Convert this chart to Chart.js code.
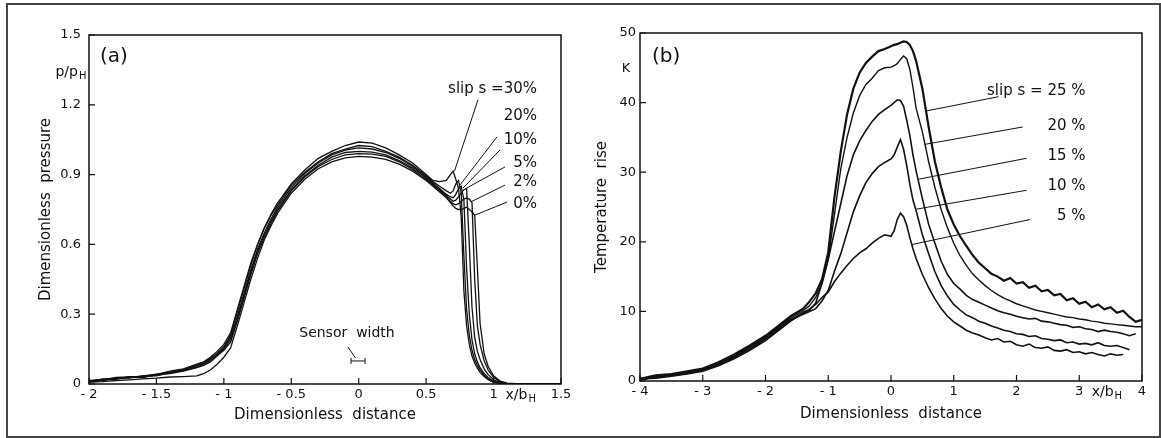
<!DOCTYPE html>
<html>
<head>
<meta charset="utf-8">
<script src="https://cdn.jsdelivr.net/npm/chart.js@4.4.1/dist/chart.umd.min.js"></script>
<style>
  body { margin: 0; background: #fff; }
  #wrap { position: relative; width: 1161px; height: 438px; overflow: hidden; background: #fff; }
  #frame { position: absolute; left: 6px; top: 3px; width: 1155px; height: 435px; box-sizing: border-box; border: 2px solid #444; }
  canvas { position: absolute; top: 0; }
  #chartA { left: 0; }
  #chartB { left: 580px; }
</style>
</head>
<body>
<div id="wrap">
  <div id="frame"></div>
  <canvas id="chartA" width="620" height="438"></canvas>
  <canvas id="chartB" width="581" height="438"></canvas>
</div>
<script>
// ---- panel (a): dimensionless pressure p/pH vs x/bH ----
const xA = [-2.0, -1.9, -1.8, -1.7, -1.6, -1.5, -1.4, -1.3, -1.2, -1.15, -1.1, -1.05, -1.0, -0.95,
  -0.9, -0.85, -0.8, -0.75, -0.7, -0.65, -0.6, -0.5, -0.4, -0.3, -0.2, -0.1, 0, 0.1, 0.2, 0.3, 0.4, 0.5,
  0.55, 0.6, 0.65, 0.68, 0.7, 0.72, 0.74, 0.76, 0.78, 0.8, 0.82, 0.84, 0.86, 0.88, 0.9, 0.93, 0.96,
  1.0, 1.05, 1.1, 1.2, 1.3, 1.4, 1.5];

const pSlip30 = [0.012, 0.02, 0.025, 0.028, 0.035, 0.042, 0.05, 0.062, 0.08, 0.09, 0.11, 0.13, 0.16, 0.21,
  0.31, 0.41, 0.51, 0.6, 0.67, 0.73, 0.78, 0.86, 0.92, 0.97, 1.0, 1.025, 1.04, 1.035, 1.015, 0.985, 0.95, 0.9,
  0.875, 0.87, 0.875, 0.9, 0.915, 0.88, 0.84, 0.72, 0.4, 0.25, 0.17, 0.12, 0.09, 0.068, 0.05, 0.032, 0.018,
  0.007, 0.002, 0, 0, 0, 0, 0];
const pSlip20 = [0.015, 0.018, 0.028, 0.03, 0.032, 0.04, 0.055, 0.065, 0.085, 0.095, 0.115, 0.14, 0.17, 0.22,
  0.32, 0.42, 0.52, 0.6, 0.67, 0.725, 0.77, 0.855, 0.91, 0.955, 0.99, 1.01, 1.025, 1.02, 1.0, 0.975, 0.94, 0.895,
  0.87, 0.85, 0.83, 0.82, 0.83, 0.86, 0.875, 0.82, 0.55, 0.32, 0.21, 0.145, 0.105, 0.08, 0.06, 0.038, 0.022,
  0.009, 0.003, 0, 0, 0, 0, 0];
const pSlip10 = [0.01, 0.022, 0.02, 0.032, 0.03, 0.038, 0.05, 0.06, 0.078, 0.09, 0.105, 0.13, 0.155, 0.2,
  0.29, 0.39, 0.49, 0.58, 0.65, 0.71, 0.76, 0.845, 0.905, 0.95, 0.985, 1.005, 1.015, 1.01, 0.995, 0.97, 0.935, 0.89,
  0.865, 0.84, 0.815, 0.805, 0.8, 0.815, 0.84, 0.85, 0.79, 0.5, 0.3, 0.19, 0.13, 0.095, 0.07, 0.045, 0.028,
  0.012, 0.005, 0.001, 0, 0, 0, 0];
const pSlip5 = [0.008, 0.015, 0.025, 0.025, 0.035, 0.035, 0.048, 0.058, 0.072, 0.085, 0.1, 0.125, 0.15, 0.19,
  0.28, 0.38, 0.48, 0.57, 0.64, 0.7, 0.75, 0.835, 0.895, 0.94, 0.975, 0.995, 1.0, 0.997, 0.985, 0.96, 0.928, 0.885,
  0.86, 0.835, 0.81, 0.795, 0.785, 0.79, 0.805, 0.82, 0.835, 0.84, 0.6, 0.33, 0.2, 0.14, 0.105, 0.065, 0.04,
  0.018, 0.007, 0.002, 0, 0, 0, 0];
const pSlip2 = [0.012, 0.018, 0.022, 0.03, 0.028, 0.04, 0.045, 0.055, 0.07, 0.08, 0.095, 0.12, 0.145, 0.18,
  0.27, 0.37, 0.47, 0.56, 0.63, 0.69, 0.745, 0.83, 0.89, 0.935, 0.965, 0.985, 0.99, 0.988, 0.978, 0.955, 0.922, 0.88,
  0.855, 0.83, 0.805, 0.785, 0.775, 0.77, 0.775, 0.785, 0.795, 0.8, 0.795, 0.78, 0.45, 0.25, 0.17, 0.1, 0.06,
  0.028, 0.01, 0.003, 0, 0, 0, 0];
const pSlip0 = [0.008, 0.01, 0.015, 0.018, 0.022, 0.025, 0.03, 0.032, 0.035, 0.045, 0.06, 0.085, 0.115, 0.155,
  0.25, 0.35, 0.45, 0.54, 0.62, 0.68, 0.735, 0.82, 0.88, 0.925, 0.955, 0.972, 0.978, 0.975, 0.965, 0.945, 0.915, 0.875,
  0.85, 0.825, 0.8, 0.78, 0.765, 0.755, 0.75, 0.75, 0.755, 0.76, 0.75, 0.74, 0.725, 0.5, 0.26, 0.13, 0.075,
  0.035, 0.012, 0.004, 0, 0, 0, 0];

const xTicksA = ['- 2', '- 1.5', '- 1', '- 0.5', '0', '0.5', '1', '1.5'];
const yTicksA = ['0', '0.3', '0.6', '0.9', '1.2', '1.5'];
const slipLabelsA = ['slip s =30%', '20%', '10%', '5%', '2%', '0%'];

// ---- panel (b): temperature rise in K vs x/bH ----
const xB = [-4, -3.75, -3.5, -3.25, -3, -2.75, -2.5, -2.25, -2, -1.8, -1.6, -1.4, -1.3, -1.2, -1.1, -1.0,
  -0.9, -0.8, -0.7, -0.6, -0.5, -0.4, -0.3, -0.2, -0.1, 0, 0.05, 0.1, 0.15, 0.2, 0.25, 0.3, 0.35, 0.4,
  0.5, 0.6, 0.7, 0.8, 0.9, 1.0, 1.1, 1.2, 1.3, 1.4, 1.5, 1.6, 1.7, 1.8, 1.9, 2.0, 2.1, 2.2, 2.3, 2.4,
  2.5, 2.6, 2.7, 2.8, 2.9, 3.0, 3.1, 3.2, 3.3, 3.4, 3.5, 3.6, 3.7, 3.8, 3.9, 4.0];

const tSlip25 = [0.3, 0.8, 1.0, 1.4, 1.8, 2.7, 3.8, 5.1, 6.5, 7.9, 9.3, 10.4, 11.4, 12.6, 14.6, 18.5,
  26.5, 33.0, 38.3, 42.0, 44.3, 45.7, 46.6, 47.4, 47.7, 48.1, 48.3, 48.4, 48.6, 48.8, 48.7, 48.3, 47.4, 46.0,
  42.0, 36.5, 31.5, 27.8, 24.6, 22.5, 20.8, 19.4, 18.1, 17.0, 16.2, 15.4, 15.0, 14.4, 14.8, 14.0, 14.2, 13.4, 13.7, 12.9,
  13.1, 12.3, 12.5, 11.6, 11.9, 11.1, 11.4, 10.6, 11.0, 10.3, 10.6, 9.8, 10.1, 9.2, 8.5, 8.8];
const tSlip20 = [0.2, 0.6, 0.9, 1.2, 1.6, 2.5, 3.6, 4.9, 6.3, 7.7, 9.0, 10.1, 10.8, 12.0, 14.0, 17.5,
  24.0, 30.5, 35.0, 38.5, 41.0, 42.6, 43.5, 44.6, 45.0, 45.1, 45.3, 45.6, 46.2, 46.7, 46.3, 44.8, 42.2, 39.2,
  35.8, 31.5, 27.8, 24.6, 22.0, 19.8, 18.0, 16.6, 15.4, 14.5, 13.7, 13.0, 12.4, 11.9, 11.5, 11.1, 10.8, 10.5, 10.2, 10.0,
  9.8, 9.6, 9.4, 9.2, 9.1, 8.9, 8.8, 8.6, 8.5, 8.3, 8.2, 8.1, 8.0, 7.9, 7.8, 7.8];
const tSlip15 = [0.4, 0.5, 0.8, 1.1, 1.5, 2.3, 3.4, 4.6, 6.0, 7.4, 8.7, 9.8, 10.2, 11.2, 14.0, 17.5,
  21.5, 25.5, 29.5, 32.5, 34.5, 36.0, 37.3, 38.3, 39.0, 39.6, 40.0, 40.4, 40.3, 39.5, 37.5, 35.3, 32.5, 30.2,
  26.2, 22.5, 19.8, 17.2, 15.3, 14.0, 13.2, 12.3, 11.7, 11.3, 10.9, 10.5, 10.1, 9.8, 9.6, 9.3, 9.1, 8.9, 9.0, 8.6,
  8.5, 8.3, 8.1, 8.0, 7.7, 7.8, 7.5, 7.4, 7.1, 7.3, 7.1, 7.0, 6.8, 6.5, 6.8, null];
const tSlip10 = [0.1, 0.6, 0.9, 1.3, 1.7, 2.4, 3.5, 4.7, 6.1, 7.5, 8.8, 9.6, 10.0, 10.4, 11.5, 13.0,
  15.8, 18.3, 21.3, 24.3, 26.6, 28.5, 29.8, 30.8, 31.4, 31.9, 32.5, 33.6, 34.7, 33.3, 31.0, 28.3, 26.0, 24.5,
  21.0, 18.3, 15.7, 13.7, 12.2, 11.0, 10.2, 9.5, 9.1, 8.6, 8.3, 7.9, 7.6, 7.3, 7.1, 6.8, 6.7, 6.4, 6.5, 6.1,
  6.0, 5.8, 5.9, 5.5, 5.6, 5.3, 5.4, 5.2, 5.5, 5.1, 5.0, 5.1, 4.8, 4.5, null, null];
const tSlip5 = [0.3, 0.4, 0.7, 1.0, 1.4, 2.2, 3.2, 4.4, 5.8, 7.2, 8.6, 9.8, 10.3, 11.0, 12.0, 12.8,
  14.3, 15.5, 16.6, 17.6, 18.4, 19.0, 19.8, 20.5, 21.0, 20.8, 21.6, 23.2, 24.1, 23.6, 22.4, 20.6, 19.0, 17.6,
  15.3, 13.4, 11.8, 10.4, 9.3, 8.5, 7.9, 7.3, 6.9, 6.6, 6.2, 5.9, 6.1, 5.6, 5.7, 5.2, 5.0, 5.3, 4.8, 4.7,
  4.9, 4.4, 4.3, 4.5, 4.1, 4.2, 3.9, 4.1, 3.8, 3.6, 3.9, 3.7, 3.8, null, null, null];

const xTicksB = ['- 4', '- 3', '- 2', '- 1', '0', '1', '2', '3', '4'];
const yTicksB = ['0', '10', '20', '30', '40', '50'];
const slipLabelsB = ['slip s = 25 %', '20 %', '15 %', '10 %', '5 %'];

const INK = '#111';
const FONT = "'DejaVu Sans', sans-serif";

function toPoints(xs, ys) {
  return xs.map((x, i) => ({ x: x, y: ys[i] }));
}

// box round the plot area and short ticks pointing inwards
const boxTicks = {
  id: 'boxTicks',
  afterDraw(chart) {
    const { ctx, chartArea: a, scales: { x, y } } = chart;
    ctx.save();
    ctx.strokeStyle = INK;
    ctx.lineWidth = 1.5;
    ctx.strokeRect(a.left, a.top, a.right - a.left, a.bottom - a.top);
    ctx.lineWidth = 1.2;
    ctx.beginPath();
    x.ticks.forEach(t => {
      const px = x.getPixelForValue(t.value);
      ctx.moveTo(px, a.bottom);
      ctx.lineTo(px, a.bottom - 6);
    });
    y.ticks.forEach(t => {
      const py = y.getPixelForValue(t.value);
      ctx.moveTo(a.left, py);
      ctx.lineTo(a.left + 6, py);
    });
    ctx.stroke();
    ctx.restore();
  }
};

function drawSub(ctx, text, sub, px, py, size) {
  ctx.textAlign = 'left';
  ctx.textBaseline = 'middle';
  ctx.font = size + 'px ' + FONT;
  ctx.fillText(text, px, py);
  const w = ctx.measureText(text).width;
  ctx.font = Math.round(size * 0.7) + 'px ' + FONT;
  ctx.fillText(sub, px + w + 1, py + size * 0.35);
}

// text labels, leader lines etc., all placed in data units
function notesPlugin(notes) {
  return {
    id: 'notes',
    afterDraw(chart) {
      const { ctx, chartArea: a, scales: { x, y } } = chart;
      ctx.save();
      ctx.fillStyle = INK;
      ctx.strokeStyle = INK;
      notes.texts.forEach(n => {
        ctx.font = n.size + 'px ' + FONT;
        ctx.textAlign = n.align;
        ctx.textBaseline = 'middle';
        ctx.fillText(n.text, x.getPixelForValue(n.x), y.getPixelForValue(n.y));
      });
      notes.subs.forEach(n => drawSub(ctx, n.text, n.sub, x.getPixelForValue(n.x), y.getPixelForValue(n.y), n.size));
      const ax = notes.axisSub;
      drawSub(ctx, ax.text, ax.sub, x.getPixelForValue(ax.x), a.bottom + 11, ax.size);
      ctx.lineWidth = 1;
      ctx.beginPath();
      notes.leaders.forEach(l => {
        ctx.moveTo(x.getPixelForValue(l[0]), y.getPixelForValue(l[1]));
        ctx.lineTo(x.getPixelForValue(l[2]), y.getPixelForValue(l[3]));
      });
      if (notes.bar) {
        const [x0, x1, yv] = notes.bar;
        const p0 = x.getPixelForValue(x0), p1 = x.getPixelForValue(x1), py = y.getPixelForValue(yv);
        ctx.moveTo(p0, py); ctx.lineTo(p1, py);
        ctx.moveTo(p0, py - 3); ctx.lineTo(p0, py + 3);
        ctx.moveTo(p1, py - 3); ctx.lineTo(p1, py + 3);
      }
      ctx.stroke();
      ctx.restore();
    }
  };
}

const notesA = {
  texts: [
    { text: '(a)', x: -1.918, y: 1.405, align: 'left', size: 20 },
    { text: slipLabelsA[0], x: 1.322, y: 1.268, align: 'right', size: 15 },
    { text: slipLabelsA[1], x: 1.322, y: 1.152, align: 'right', size: 15 },
    { text: slipLabelsA[2], x: 1.322, y: 1.049, align: 'right', size: 15 },
    { text: slipLabelsA[3], x: 1.322, y: 0.948, align: 'right', size: 15 },
    { text: slipLabelsA[4], x: 1.322, y: 0.866, align: 'right', size: 15 },
    { text: slipLabelsA[5], x: 1.322, y: 0.774, align: 'right', size: 15 },
    { text: 'Sensor  width', x: -0.087, y: 0.219, align: 'center', size: 14 }
  ],
  subs: [{ text: 'p/p', sub: 'H', x: -2.249, y: 1.341, size: 14 }],
  axisSub: { text: 'x/b', sub: 'H', x: 1.089, size: 14 },
  leaders: [
    [0.884, 1.221, 0.71, 0.915],
    [1.025, 1.062, 0.751, 0.855],
    [1.048, 1.006, 0.773, 0.842],
    [1.085, 0.933, 0.80, 0.842],
    [1.085, 0.855, 0.84, 0.785],
    [1.10, 0.782, 0.862, 0.726],
    [-0.08, 0.159, -0.024, 0.112]
  ],
  bar: [-0.057, 0.047, 0.099]
};

const notesB = {
  texts: [
    { text: '(b)', x: -3.809, y: 46.6, align: 'left', size: 20 },
    { text: 'K', x: -4.223, y: 44.93, align: 'center', size: 13 },
    { text: slipLabelsB[0], x: 3.10, y: 41.6, align: 'right', size: 15 },
    { text: slipLabelsB[1], x: 3.10, y: 36.6, align: 'right', size: 15 },
    { text: slipLabelsB[2], x: 3.10, y: 32.3, align: 'right', size: 15 },
    { text: slipLabelsB[3], x: 3.10, y: 28.0, align: 'right', size: 15 },
    { text: slipLabelsB[4], x: 3.10, y: 23.7, align: 'right', size: 15 }
  ],
  subs: [],
  axisSub: { text: 'x/b', sub: 'H', x: 3.198, size: 14 },
  leaders: [
    [1.713, 40.85, 0.563, 38.8],
    [2.10, 36.5, 0.54, 34.0],
    [2.16, 32.0, 0.44, 29.0],
    [2.16, 27.4, 0.41, 24.7],
    [2.215, 23.2, 0.33, 19.6]
  ]
};

function lineSet(label, xs, ys, width) {
  return { label: label, data: toPoints(xs, ys), borderColor: INK, borderWidth: width,
    pointRadius: 0, tension: 0, fill: false };
}

function scaleX(min, max, step, labels, pad, titlePad) {
  return {
    type: 'linear', min: min, max: max,
    grid: { display: false, drawTicks: false }, border: { display: false },
    ticks: { stepSize: step, autoSkip: false, maxRotation: 0, padding: pad, color: INK,
      font: { family: FONT, size: 13 }, callback: (v, i) => labels[i] },
    title: { display: true, text: 'Dimensionless  distance', color: INK,
      font: { family: FONT, size: 15 }, padding: { top: 0, bottom: titlePad } }
  };
}

function scaleY(min, max, step, labels, pad, title, titlePad) {
  return {
    type: 'linear', min: min, max: max,
    grid: { display: false, drawTicks: false }, border: { display: false },
    ticks: { stepSize: step, autoSkip: false, padding: pad, color: INK,
      font: { family: FONT, size: 13 }, callback: (v, i) => labels[i] },
    title: { display: true, text: title, color: INK,
      font: { family: FONT, size: 15 }, padding: { top: titlePad, bottom: 0 } }
  };
}

const xScaleA = scaleX(-2, 1.5, 0.5, xTicksA, 3, 14);
xScaleA.afterFit = s => { s.height = 54; };
const yScaleA = scaleY(0, 1.5, 0.3, yTicksA, 8, 'Dimensionless  pressure', 37);
yScaleA.afterFit = s => { s.width = 89; };

new Chart(document.getElementById('chartA'), {
  type: 'line',
  data: {
    datasets: [
      lineSet('0%', xA, pSlip0, 1.3),
      lineSet('2%', xA, pSlip2, 1.3),
      lineSet('5%', xA, pSlip5, 1.3),
      lineSet('10%', xA, pSlip10, 1.3),
      lineSet('20%', xA, pSlip20, 1.3),
      lineSet('30%', xA, pSlip30, 1.3)
    ]
  },
  options: {
    responsive: false,
    animation: false,
    layout: { padding: { left: 0, top: 35, right: 59, bottom: 0 } },
    plugins: { legend: { display: false }, tooltip: { enabled: false } },
    scales: { x: xScaleA, y: yScaleA }
  },
  plugins: [boxTicks, notesPlugin(notesA)]
});

const xScaleB = scaleX(-4, 4, 1, xTicksB, 3, 15);
xScaleB.afterFit = s => { s.height = 57; };
const yScaleB = scaleY(0, 50, 10, yTicksB, 4, 'Temperature  rise', 13);
yScaleB.afterFit = s => { s.width = 60; };

new Chart(document.getElementById('chartB'), {
  type: 'line',
  data: {
    datasets: [
      lineSet('5 %', xB, tSlip5, 1.6),
      lineSet('10 %', xB, tSlip10, 1.6),
      lineSet('15 %', xB, tSlip15, 1.6),
      lineSet('20 %', xB, tSlip20, 1.4),
      lineSet('25 %', xB, tSlip25, 2.2)
    ]
  },
  options: {
    responsive: false,
    animation: false,
    layout: { padding: { left: 0, top: 33, right: 19, bottom: 0 } },
    plugins: { legend: { display: false }, tooltip: { enabled: false } },
    scales: { x: xScaleB, y: yScaleB }
  },
  plugins: [boxTicks, notesPlugin(notesB)]
});
</script>
</body>
</html>
